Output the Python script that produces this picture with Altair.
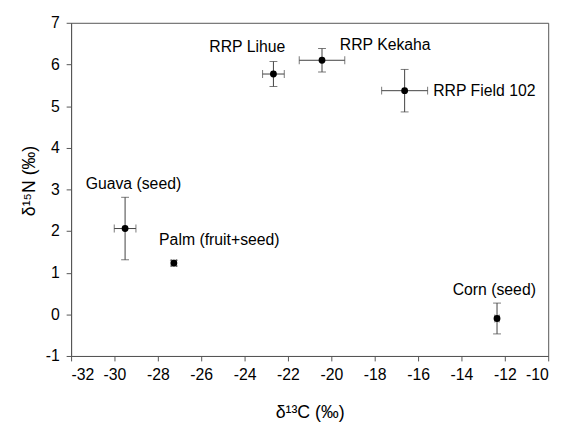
import altair as alt
import pandas as pd

# ---- data ----
names = ["RRP Lihue", "RRP Kekaha", "RRP Field 102", "Guava (seed)", "Palm (fruit+seed)", "Corn (seed)"]
d13c = [-22.67, -20.43, -16.62, -29.51, -27.26, -12.36]
d13c_err = [0.50, 1.05, 1.06, 0.50, 0.12, 0.10]
d15n = [5.77, 6.10, 5.37, 2.06, 1.23, -0.10]
d15n_err = [0.30, 0.28, 0.51, 0.75, 0.07, 0.37]

x_ticks = [-32, -30, -28, -26, -24, -22, -20, -18, -16, -14, -12, -10]
y_ticks = [-1, 0, 1, 2, 3, 4, 5, 6, 7]

df = pd.DataFrame({"name": names, "x": d13c, "xe": d13c_err, "y": d15n, "ye": d15n_err})
df["xlo"] = df["x"] - df["xe"]
df["xhi"] = df["x"] + df["xe"]
df["ylo"] = df["y"] - df["ye"]
df["yhi"] = df["y"] + df["ye"]

FONT = "Liberation Sans"
BAR = "#404040"

xs = alt.Scale(domain=[-32, -10], nice=False, zero=False)
ys = alt.Scale(domain=[-1, 7], nice=False, zero=False)

xaxis = alt.Axis(values=x_ticks, title="δ¹³C (‰)", grid=False, tickSize=5,
                 labelPadding=6, titleY=62, titleBaseline="alphabetic",
                 labelExpr="'' + datum.value")
yaxis = alt.Axis(values=y_ticks, title="δ¹⁵N (‰)", grid=False, tickSize=5,
                 labelPadding=7, titleX=-33, titleY=160, titleAngle=270,
                 titleBaseline="bottom", titleAlign="center",
                 labelExpr="'' + datum.value")

base = alt.Chart(df)

vbar = base.mark_rule(color=BAR, strokeWidth=1).encode(
    x=alt.X("x:Q", scale=xs, axis=xaxis),
    y=alt.Y("ylo:Q", scale=ys, axis=yaxis),
    y2="yhi:Q",
)
hbar = base.mark_rule(color=BAR, strokeWidth=1).encode(
    x=alt.X("xlo:Q", scale=xs), x2="xhi:Q", y=alt.Y("y:Q", scale=ys)
)
ycap_hi = base.mark_tick(color=BAR, orient="horizontal", size=8, thickness=1).encode(
    x=alt.X("x:Q", scale=xs), y=alt.Y("yhi:Q", scale=ys))
ycap_lo = base.mark_tick(color=BAR, orient="horizontal", size=8, thickness=1).encode(
    x=alt.X("x:Q", scale=xs), y=alt.Y("ylo:Q", scale=ys))
xcap_hi = base.mark_tick(color=BAR, orient="vertical", size=8, thickness=1).encode(
    x=alt.X("xhi:Q", scale=xs), y=alt.Y("y:Q", scale=ys))
xcap_lo = base.mark_tick(color=BAR, orient="vertical", size=8, thickness=1).encode(
    x=alt.X("xlo:Q", scale=xs), y=alt.Y("y:Q", scale=ys))

pts = base.mark_circle(color="black", opacity=1, size=48).encode(
    x=alt.X("x:Q", scale=xs), y=alt.Y("y:Q", scale=ys))

# label placement relative to each point: (align, dx, dy)
label_style = {
    "RRP Lihue": ("right", 12, -22),
    "RRP Kekaha": ("left", 18, -10),
    "RRP Field 102": ("left", 29, 5),
    "Guava (seed)": ("left", -40, -40),
    "Palm (fruit+seed)": ("left", -15, -18),
    "Corn (seed)": ("left", -45, -24),
}
labels = []
for nm, (al, dx, dy) in label_style.items():
    labels.append(
        base.transform_filter(alt.datum.name == nm)
        .mark_text(align=al, baseline="alphabetic", dx=dx, dy=dy, font=FONT,
                   fontSize=16, color="black")
        .encode(x=alt.X("x:Q", scale=xs), y=alt.Y("y:Q", scale=ys), text="name:N")
    )

chart = alt.layer(vbar, hbar, ycap_hi, ycap_lo, xcap_hi, xcap_lo, pts, *labels).properties(
    width=484, height=338,
    autosize=alt.AutoSizeParams(type="none"),
    padding={"left": 64, "top": 12, "right": 14, "bottom": 66},
    background="white",
).configure_view(
    stroke="#555555", strokeWidth=1
).configure_axis(
    domainColor="#555555", tickColor="#555555", labelFont=FONT, labelFontSize=16,
    labelColor="black", titleFont=FONT, titleFontSize=18, titleFontWeight="normal",
    titleColor="black"
)

chart.save("out.html", embed_options={"renderer": "svg", "actions": False})
